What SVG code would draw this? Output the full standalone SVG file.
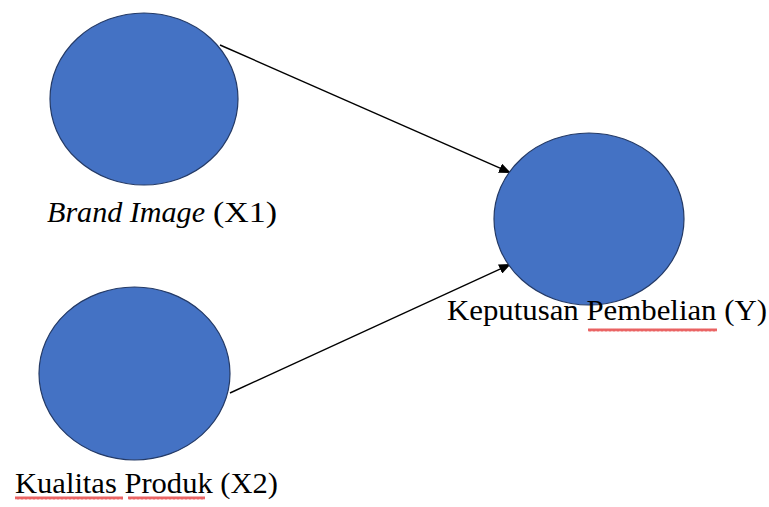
<svg xmlns="http://www.w3.org/2000/svg" width="769" height="507" viewBox="0 0 769 507">
<style>
.node{fill:#4472C4;stroke:#243a66;stroke-width:1.2}
.lbl{font-family:"Liberation Serif","Times New Roman",serif;font-size:30px;fill:#000}
.it{font-style:italic}
.edge{stroke:#000;stroke-width:1.4;fill:none}
</style>
<defs>
<marker id="ah" markerWidth="12" markerHeight="10" refX="12" refY="5" orient="auto" markerUnits="userSpaceOnUse">
<path d="M0,0 L12,5 L0,10 Z" fill="#000"/>
</marker>
<pattern id="wave" width="4" height="4" patternUnits="userSpaceOnUse"><path d="M0,3.5 L1,0.5 L2,3.5 L3,0.5 L4,3.5" stroke="#e02020" stroke-width="0.8" fill="none"/></pattern>
</defs>
<rect width="769" height="507" fill="#fff"/>
<g id="connectors">
<line class="edge" x1="220" y1="45" x2="511" y2="173" marker-end="url(#ah)"/>
<line class="edge" x1="230" y1="393" x2="511" y2="264" marker-end="url(#ah)"/>
</g>
<g id="x1">
<ellipse class="node" cx="144" cy="99" rx="94" ry="86"/>
<text class="lbl it" x="47" y="222" textLength="158" lengthAdjust="spacingAndGlyphs">Brand Image</text>
<text class="lbl" x="213" y="222" textLength="64" lengthAdjust="spacingAndGlyphs">(X1)</text>
</g>
<g id="x2">
<ellipse class="node" cx="134.5" cy="373.5" rx="95.5" ry="86.5"/>
<text class="lbl" x="15" y="493" textLength="263" lengthAdjust="spacingAndGlyphs">Kualitas Produk (X2)</text>
<rect x="15" y="496" width="108" height="4" fill="url(#wave)"/>
<rect x="128" y="496" width="77" height="4" fill="url(#wave)"/>
</g>
<g id="y">
<ellipse class="node" cx="589" cy="219" rx="95" ry="86"/>
<text class="lbl" x="447" y="320" textLength="320" lengthAdjust="spacingAndGlyphs">Keputusan Pembelian (Y)</text>
<rect x="588" y="328" width="129" height="4" fill="url(#wave)"/>
</g>
</svg>
